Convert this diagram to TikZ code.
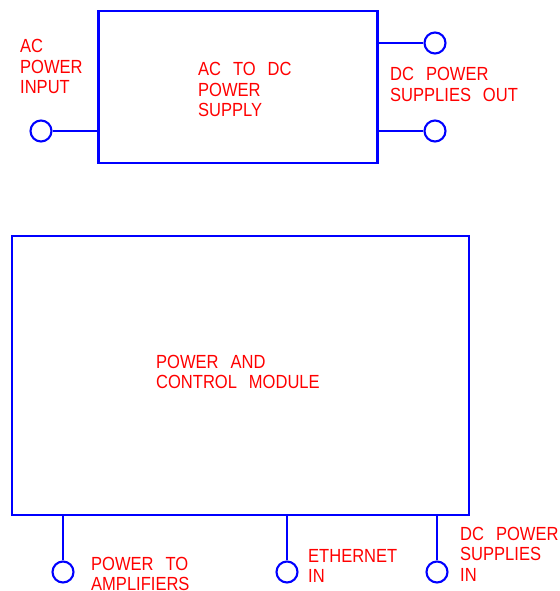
\documentclass[tikz,border=0pt]{standalone}
\usepackage{fontspec}
\setmainfont[WordSpace=2.6,FakeStretch=0.87]{Liberation Sans}
\begin{document}
\begin{tikzpicture}[x=1pt,y=-1pt,
  wire/.style={draw=blue,line width=2.1pt},
  box/.style={wire,rectangle,inner sep=0pt},
  port/.style={wire,circle,minimum size=21pt,inner sep=0pt},
  lbl/.style={text=red,align=left,inner sep=0pt,anchor=base west,font=\fontsize{19}{20.5}\selectfont}]
\useasboundingbox (0,0) rectangle (559,591);
% boxes
\node[box,minimum width=279pt,minimum height=152pt] (psu) at (238,87) {};
\node[box,minimum width=457pt,minimum height=279pt] (pcm) at (240.5,375.5) {};
% ports
\node[port] (acin) at (41,131) {};
\node[port] (dc1) at (435,43) {};
\node[port] (dc2) at (435,131) {};
\node[port] (amp) at (63,572) {};
\node[port] (eth) at (287,572) {};
\node[port] (dcin) at (437,572) {};
% connectors
\draw[wire] (acin) -- (acin -| psu.west);
\draw[wire] (dc1) -- (dc1 -| psu.east);
\draw[wire] (dc2) -- (dc2 -| psu.east);
\draw[wire] (amp) -- (amp |- pcm.south);
\draw[wire] (eth) -- (eth |- pcm.south);
\draw[wire] (dcin) -- (dcin |- pcm.south);
% labels (anchor = baseline of last line)
\node[lbl] (lacin) at (20,94) {AC\\POWER\\INPUT};
\node[lbl] (lpsu) at (198,117) {AC TO DC\\POWER\\SUPPLY};
\node[lbl] (ldcout) at (390,101.5) {DC POWER\\SUPPLIES OUT};
\node[lbl] (lpcm) at (156,388.5) {POWER AND\\CONTROL MODULE};
\node[lbl] (lamp) at (91,590.5) {POWER TO\\AMPLIFIERS};
\node[lbl] (leth) at (308,582.5) {ETHERNET\\IN};
\node[lbl] (ldcin) at (460,581) {DC POWER\\SUPPLIES\\IN};
\end{tikzpicture}
\end{document}
